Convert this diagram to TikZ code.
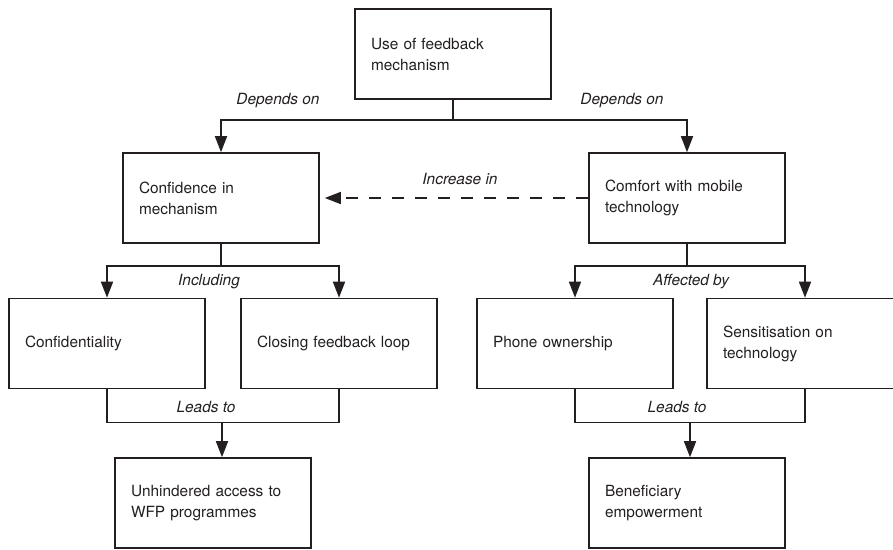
\documentclass[tikz,border=0pt]{standalone}
\usepackage{fontspec}
\setmainfont{TeX Gyre Heros}
\usetikzlibrary{arrows.meta}
\definecolor{ink}{RGB}{35,31,32}

\begin{document}
\begin{tikzpicture}[x=1pt,y=-1pt,line width=1.6pt,color=ink,
    font=\fontsize{15.4}{21}\selectfont,
    arr/.style={-{Triangle[length=16pt,width=12pt]}}]

        \useasboundingbox (0,0) rectangle (893,549);

        \begin{scope}[every node/.style={rectangle,draw,line width=1.6pt,
            minimum width=196pt,minimum height=90pt,inner xsep=16pt,
            text width=164pt,align=left}]
          \node (use)     at (453,54)    {Use of feedback\\mechanism};
          \node (conf)    at (221,198)   {Confidence in\\mechanism};
          \node (comf)    at (687,198)   {Comfort with mobile\\technology};
          \node (confid)  at (107,343.5) {Confidentiality};
          \node (closing) at (339,343.5) {Closing feedback loop};
          \node (phone)   at (575,343.5) {Phone ownership};
          \node (sens)    at (805,343.5) {Sensitisation on\\technology};
          \node (access)  at (213,503)   {Unhindered access to\\WFP programmes};
          \node (empower) at (687,503)   {Beneficiary\\empowerment};
        \end{scope}

        \coordinate (lj) at (222,422);
        \coordinate (rj) at (690,422);

        \draw[arr] (use.south) -- ++(0,20) -| (conf.north);
        \draw[arr] (use.south) -- ++(0,20) -| (comf.north);
        \draw[arr,dash pattern=on 12pt off 11pt,shorten >=5pt] (comf.west) -- (conf.east);
        \draw[arr] (conf.south) -- ++(0,22) -| (confid.north);
        \draw[arr] (conf.south) -- ++(0,22) -| (closing.north);
        \draw[arr] (comf.south) -- ++(0,22) -| (phone.north);
        \draw[arr] (comf.south) -- ++(0,22) -| (sens.north);
        \draw (confid.south) -- ++(0,33) -| (closing.south);
        \draw (phone.south) -- ++(0,33) -| (sens.south);
        \draw[arr] (lj) -- (lj |- access.north);
        \draw[arr] (rj) -- (rj |- empower.north);

        \begin{scope}[every node/.style={font=\fontsize{15.4}{21}\selectfont\itshape}]
          \node (dep1) at (278,101) {Depends on};
          \node (dep2) at (622,101) {Depends on};
          \node (inc)  at (460,179) {Increase in};
          \node (incl) at (209,282) {Including};
          \node (aff)  at (691,282) {Affected by};
          \node (lead1) at (206,407) {Leads to};
          \node (lead2) at (677,407) {Leads to};
        \end{scope}

      \end{tikzpicture}
\end{document}
